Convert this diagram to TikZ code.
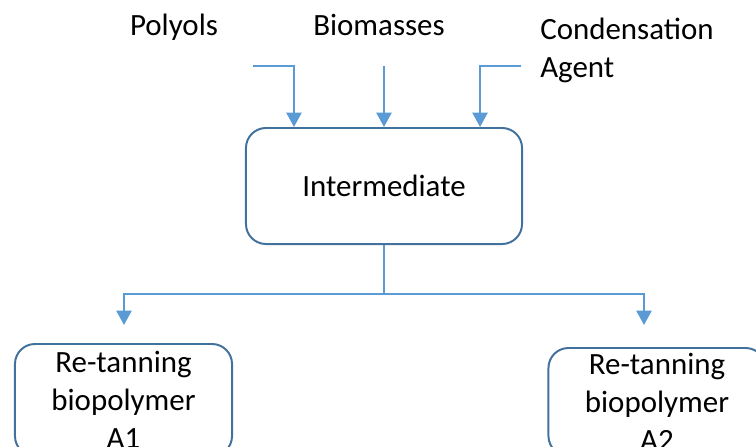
\documentclass[tikz,border=0pt]{standalone}
\usepackage{fontspec}
\setmainfont{Carlito}
\usetikzlibrary{arrows.meta}
\definecolor{linkblue}{RGB}{91,155,213}
\definecolor{boxblue}{RGB}{65,113,156}

\begin{document}
\begin{tikzpicture}[x=0.025cm, y=-0.025cm,
	feedtext/.style={font=\fontsize{22}{27}\selectfont, inner sep=0pt, align=left},
	box/.style={draw=boxblue, line width=1.4pt, rounded corners=0.5cm, align=center, font=\fontsize{22}{27}\selectfont},
	link/.style={draw=linkblue, line width=1.4pt},
	feed/.style={link, -{Triangle[length=0.36cm, width=0.38cm]}}]
	
	\useasboundingbox (0,0) rectangle (756,447);
	\clip (0,0) rectangle (756,447);
	
	\node [feedtext, anchor=base] (polyols) at (174,35) {Polyols};
	\node [feedtext, anchor=base] (biomass) at (379,35) {Biomasses};
	\node [feedtext, anchor=base west] (agent) at (540,77) {Condensation\\Agent};
	
	\node [box, minimum width=6.9cm, minimum height=2.9cm] (inter) at (384,186) {Intermediate};
	
	\node [box, minimum width=5.425cm, minimum height=2.8cm] (ra1) at (123.5,400) {Re-tanning\\biopolymer\\A1};
	\node [box, minimum width=5.425cm, minimum height=2.7cm] (ra2) at (657,402) {Re-tanning\\biopolymer\\A2};
	
	\coordinate (inpoly) at (253,66);
	\coordinate (inagent) at (521,66);
	\coordinate (inbio) at (384,66);
	\draw [feed] (inpoly) -| ([xshift=-2.25cm]inter.north);
	\draw [feed] (inbio) -- (inter.north);
	\draw [feed] (inagent) -| ([xshift=2.4cm]inter.north);
	
	\coordinate (split) at (384,294);
	\coordinate (outa1) at (124,325);
	\coordinate (outa2) at (644,325);
	\draw [link] (inter.south) -- (split);
	\draw [feed] (split) -| (outa1);
	\draw [feed] (split) -| (outa2);
	
\end{tikzpicture}
\end{document}
